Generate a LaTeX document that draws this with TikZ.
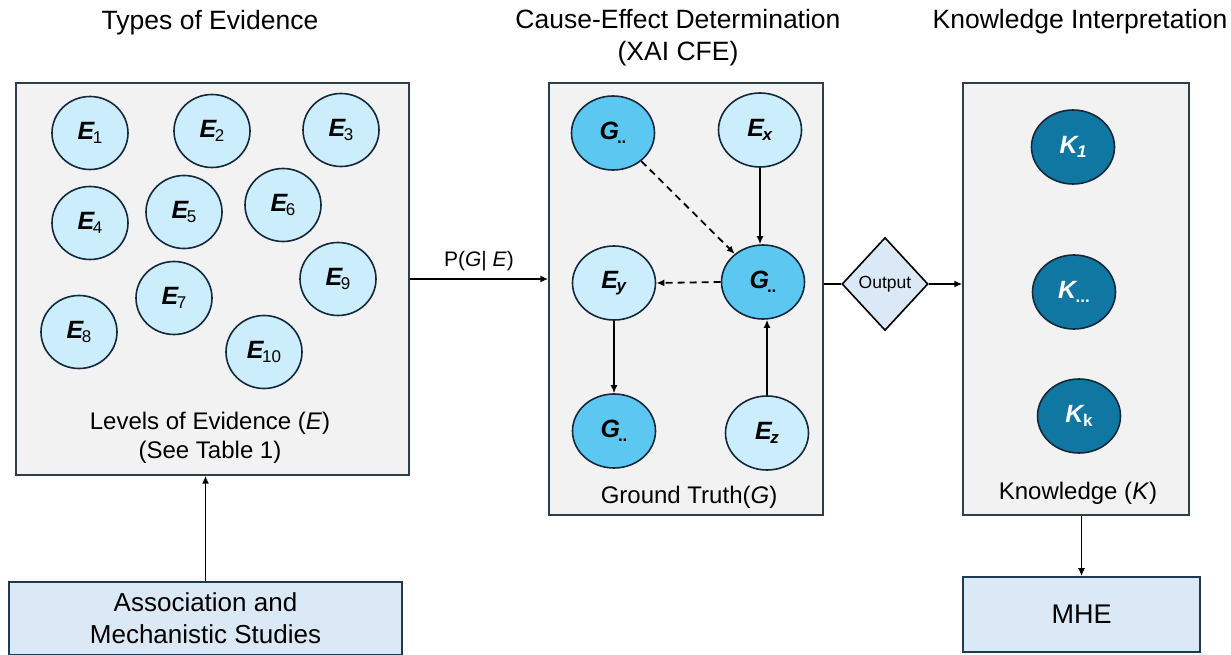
\documentclass[tikz,border=0pt]{standalone}
\usepackage{fontspec}
\setmainfont{Liberation Sans}
\usetikzlibrary{shapes.geometric,arrows.meta}
\definecolor{panelfill}{HTML}{F2F2F2}
\definecolor{panelline}{HTML}{2E3F4C}
\definecolor{lightnode}{HTML}{CCEDFB}
\definecolor{darknode}{HTML}{5CC8F1}
\definecolor{knode}{HTML}{0F77A1}
\definecolor{nodeline}{HTML}{13283A}
\definecolor{bluebox}{HTML}{DBE8F5}
\definecolor{boxline}{HTML}{1E3A4E}
\newcommand\sublab[2]{\textbf{\textit{#1}}\kern-2pt\raisebox{-3.5pt}{\fontsize{17}{17}\selectfont #2}}
\begin{document}
\begin{tikzpicture}[x=1pt,y=-1pt,
  panel/.style={draw=panelline,line width=1.4pt,fill=panelfill,inner sep=0pt},
  enode/.style={ellipse,draw=nodeline,line width=1.6pt,fill=lightnode,minimum width=76pt,minimum height=73pt,inner sep=0pt,font=\fontsize{25}{30}\selectfont},
  mnode/.style={ellipse,draw=nodeline,line width=1.6pt,minimum width=83pt,minimum height=74pt,inner sep=0pt,font=\fontsize{25}{30}\selectfont},
  kn/.style={mnode,fill=knode,text=white},
  ttl/.style={font=\fontsize{26.5}{32}\selectfont,align=center,inner sep=0pt},
  captext/.style={font=\fontsize{24}{29}\selectfont,align=center,inner sep=0pt},
  arr/.style={line width=1.8pt,-{Latex[length=8pt,width=7pt]}},
  dasharr/.style={arr,dash pattern=on 7pt off 5pt},
  bbox/.style={draw=boxline,line width=1.6pt,fill=bluebox,inner sep=0pt,align=center}
]
\useasboundingbox (0,0) rectangle (1231,655);

% titles
\node[ttl] (t1) at (210,23) {Types of Evidence};
\node[ttl] (t2) at (678,38) {Cause-Effect Determination\\(XAI CFE)};
\node[ttl] (t3) at (1080,22) {Knowledge Interpretation};

% panels
\node[panel,minimum width=393pt,minimum height=392pt] (lbox) at (212.5,279) {};
\node[panel,minimum width=274pt,minimum height=432pt] (mbox) at (686,299) {};
\node[panel,minimum width=226pt,minimum height=432pt] (rbox) at (1076,299) {};

% left evidence nodes
\node[enode] (e1) at (90,133) {\sublab{E}{1}};
\node[enode] (e2) at (212,131) {\sublab{E}{2}};
\node[enode] (e3) at (341,130) {\sublab{E}{3}};
\node[enode] (e4) at (90,223) {\sublab{E}{4}};
\node[enode] (e5) at (184,212) {\sublab{E}{5}};
\node[enode] (e6) at (283,205) {\sublab{E}{6}};
\node[enode] (e7) at (174,298) {\sublab{E}{7}};
\node[enode] (e8) at (79,332) {\sublab{E}{8}};
\node[enode] (e9) at (338,279) {\sublab{E}{9}};
\node[enode] (e10) at (264,352) {\sublab{E}{10}};
\node[captext] (lcap) at (210,438) {Levels of Evidence (\textit{E})\\(See Table 1)};

% middle nodes
\node[mnode,fill=darknode] (g1) at (613,133) {\sublab{G}{\textbf{..}}};
\node[mnode,fill=lightnode] (ex) at (760,130) {\sublab{E}{\textbf{\textit{x}}}};
\node[mnode,fill=lightnode] (ey) at (614,283) {\sublab{E}{\textbf{\textit{y}}}};
\node[mnode,fill=darknode] (g2) at (763,282) {\sublab{G}{\textbf{..}}};
\node[mnode,fill=darknode] (g3) at (614,431) {\sublab{G}{\textbf{..}}};
\node[mnode,fill=lightnode] (ez) at (767,433) {\sublab{E}{\textbf{\textit{z}}}};
\node[captext] (mcap) at (689,497) {Ground Truth(\textit{G})};

\draw[dasharr] (g1) -- (g2);
\draw[arr] (ex.south) -- (ex.south |- g2.north);
\draw[dasharr] (g2.west) -- (ey.east);
\draw[arr] (ey.south) -- (g3.north);
\draw[arr] (ez.north) -- (ez.north |- g2.south);

% right nodes
\node[kn] (k1) at (1073,147) {\sublab{K}{\textbf{\textit{1}}}};
\node[kn] (k2) at (1074,292) {\sublab{K}{\textbf{...}}};
\node[kn] (k3) at (1079,416) {\sublab{K}{\textbf{k}}};
\node[captext] (rcap) at (1078,493) {Knowledge (\textit{K})};

% diamond
\node[diamond,draw=black,line width=1.6pt,fill=bluebox,minimum width=86pt,minimum height=93pt,inner sep=0pt,font=\fontsize{17.5}{20}\selectfont] (out) at (885,284) {Output};

% bottom boxes
\node[bbox,minimum width=393pt,minimum height=73pt,font=\fontsize{26}{32}\selectfont] (assoc) at (205.5,618.5) {Association and\\Mechanistic Studies};
\node[bbox,minimum width=237pt,minimum height=75pt,font=\fontsize{27}{32}\selectfont] (mhe) at (1081.5,614.5) {MHE};

% connectors
\draw[arr] (lbox.east |- 0,279) -- (mbox.west |- 0,279) node[midway,above=7pt,font=\fontsize{21}{24}\selectfont,inner sep=0pt] (pge) {P(\textit{G}| \textit{E})};
\draw[line width=1.8pt] (mbox.east |- out) -- (out.west);
\draw[arr] (out.east) -- (out.east -| rbox.west);
\draw[arr] (assoc.north) -- (assoc.north |- lbox.south);
\draw[arr] (mhe.north |- rbox.south) -- (mhe.north);
\end{tikzpicture}
\end{document}
